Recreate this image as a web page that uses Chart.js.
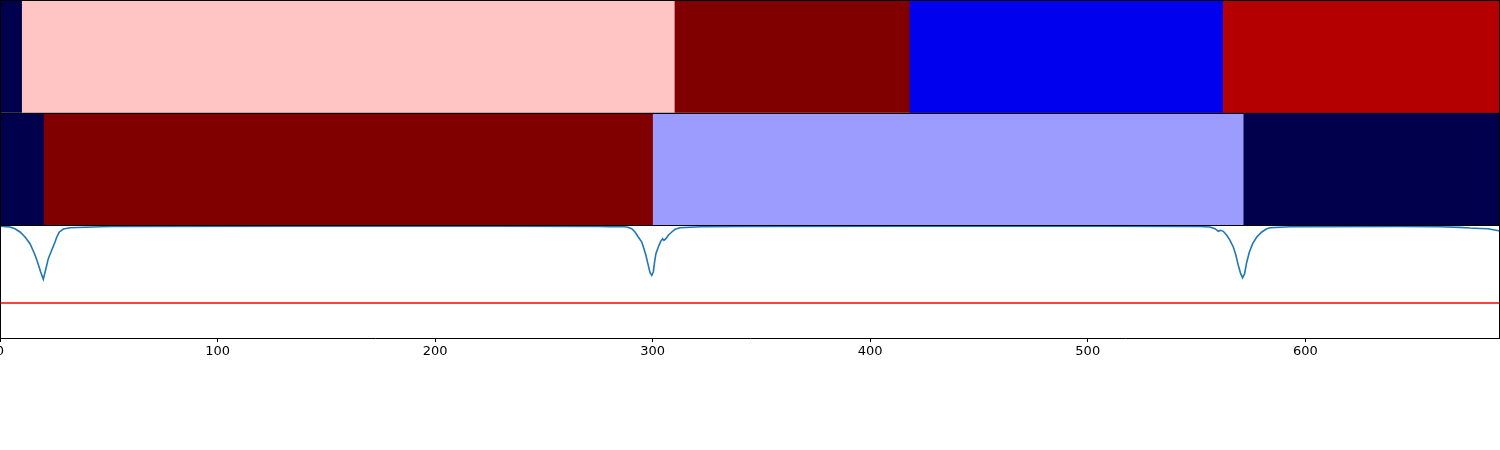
<!DOCTYPE html>
<html>
<head>
<meta charset="utf-8">
<script src="https://cdn.jsdelivr.net/npm/chart.js@4/dist/chart.umd.min.js"></script>
<style>
  html, body { margin: 0; padding: 0; background: #ffffff; }
  #wrap { width: 1500px; height: 450px; }
</style>
</head>
<body>
<div id="wrap"><canvas id="c" width="1500" height="450"></canvas></div>
<script>
// ---- data ----
const xMax = 689.5;
const xTicks = [0, 100, 200, 300, 400, 500, 600];

// top strip: segment edges and colours
const topEdges = [0, 10, 310, 418, 562, 689.5];
const topColors = ['#00004c', '#ffc4c4', '#800000', '#0000ee', '#b40000'];

// middle strip: segment edges and colours
const midEdges = [0, 20, 300, 571.5, 689.5];
const midColors = ['#00004c', '#800000', '#9c9cff', '#00004c'];

// bottom panel: signal (x, value)
const lineX = [0, 4.6, 6.9, 9.2, 11.5, 13.8, 16.1, 17.5, 18.7, 19.9, 21.1, 22.2, 23.8, 25.3, 26.1, 27.3, 29.1, 32.2, 46.0, 50.6,
  137.9, 229.8, 275.8, 280.4,
  285.0, 288.1, 290.4, 291.9, 293.4, 295.0, 296.0, 296.9, 298.0, 298.8, 299.6, 300.3, 300.9, 301.5, 302.6, 303.7, 304.6, 305.2, 306.1, 307.2, 308.8, 310.3, 312.6, 321.8, 340.2,
  413.7, 505.6, 547.0,
  551.6, 556.2, 558.5, 560.0, 561.1, 562.3, 563.9, 565.4, 566.9, 568.1, 569.2, 570.3, 571.2, 572.1, 573.1, 574.3, 575.8, 577.7, 580.0, 582.3, 583.8, 593.0,
  643.5, 661.9, 671.1, 675.7, 680.3, 684.0, 689.5];
const lineY = [0.993, 0.985, 0.970, 0.941, 0.896, 0.837, 0.737, 0.659, 0.586, 0.521, 0.615, 0.704, 0.781, 0.852, 0.896, 0.941, 0.967, 0.979, 0.988, 0.990,
  0.992, 0.992, 0.990, 0.988,
  0.990, 0.985, 0.970, 0.941, 0.896, 0.852, 0.793, 0.734, 0.645, 0.580, 0.556, 0.586, 0.675, 0.748, 0.808, 0.858, 0.881, 0.867, 0.881, 0.912, 0.941, 0.965, 0.979, 0.988, 0.990,
  0.992, 0.992, 0.990,
  0.990, 0.985, 0.970, 0.947, 0.956, 0.947, 0.912, 0.867, 0.808, 0.734, 0.645, 0.571, 0.533, 0.571, 0.675, 0.763, 0.837, 0.896, 0.941, 0.970, 0.979, 0.988,
  0.990, 0.988, 0.982, 0.976, 0.972, 0.970, 0.950];

const threshold = 0.31;

// ---- build datasets ----
// each segment is filled from its start edge to the strip's end; later segments
// are painted over earlier ones so adjacent colours meet without seams
function stripDatasets(edges, colors, level) {
  const out = [];
  const end = edges[edges.length - 1];
  for (let i = 0; i < colors.length; i++) {
    out.push({
      type: 'line',
      data: [{x: edges[i], y: level + 1}, {x: end, y: level + 1}],
      fill: {value: level},
      backgroundColor: colors[i],
      borderWidth: 0,
      pointRadius: 0,
      tension: 0,
      order: 10 - i
    });
  }
  return out;
}

const datasets = [
  ...stripDatasets(topEdges, topColors, 2),
  ...stripDatasets(midEdges, midColors, 1),
  {
    type: 'line',
    data: lineX.map((x, i) => ({x, y: lineY[i]})),
    borderColor: '#1f77b4',
    borderWidth: 1.6,
    pointRadius: 0,
    fill: false,
    tension: 0,
    order: 0
  },
  {
    type: 'line',
    data: [{x: 0, y: threshold}, {x: xMax, y: threshold}],
    borderColor: '#ff0000',
    borderWidth: 1.6,
    pointRadius: 0,
    fill: false,
    order: 0
  }
];

const framePlugin = {
  id: 'frame',
  afterDatasetsDraw(chart) {
    const {ctx, chartArea: a, scales} = chart;
    ctx.save();
    ctx.strokeStyle = '#000000';
    ctx.lineWidth = 1;
    ctx.beginPath();
    ctx.moveTo(a.left + 0.5, a.top); ctx.lineTo(a.left + 0.5, a.bottom);
    ctx.moveTo(a.right - 0.5, a.top); ctx.lineTo(a.right - 0.5, a.bottom);
    ctx.moveTo(a.left, a.top + 0.5); ctx.lineTo(a.right, a.top + 0.5);
    [1, 2].forEach(v => {
      const y = Math.round(scales.y.getPixelForValue(v)) + 0.5;
      ctx.moveTo(a.left, y); ctx.lineTo(a.right, y);
    });
    ctx.stroke();
    ctx.restore();
  }
};

new Chart(document.getElementById('c'), {
  type: 'line',
  data: { datasets },
  plugins: [framePlugin],
  options: {
    responsive: false,
    animation: false,
    devicePixelRatio: 1,
    layout: { padding: 0 },
    plugins: { legend: { display: false }, tooltip: { enabled: false } },
    scales: {
      x: {
        type: 'linear',
        min: 0,
        max: xMax,
        afterBuildTicks: s => { s.ticks = xTicks.map(v => ({value: v})); },
        afterFit: s => { s.height = 112; s.paddingLeft = 0; s.paddingRight = 0; },
        ticks: {
          color: '#000000',
          font: { family: 'DejaVu Sans', size: 13 },
          padding: 2,
          maxRotation: 0,
          autoSkip: false
        },
        grid: { drawOnChartArea: false, drawTicks: true, tickLength: 4, color: '#000000' },
        border: { display: true, color: '#000000', width: 1 }
      },
      y: {
        type: 'linear',
        min: 0,
        max: 3,
        display: false
      }
    }
  }
});
</script>
</body>
</html>
